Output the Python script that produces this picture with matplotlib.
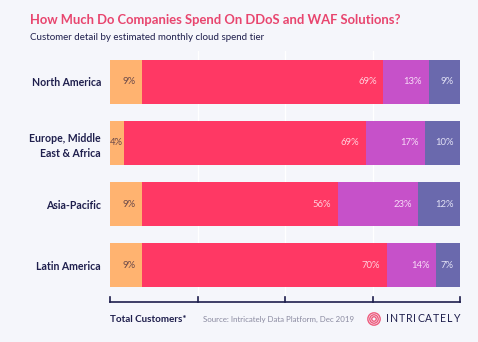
import matplotlib
matplotlib.use('Agg')
import matplotlib.pyplot as plt
from matplotlib.patches import Circle

# Spend tier share per region (percent of customers)
regions = ['North America', 'Europe, Middle\nEast & Africa', 'Asia-Pacific', 'Latin America']
tier_1 = [9, 4, 9, 9]
tier_2 = [69, 69, 56, 70]
tier_3 = [13, 17, 23, 14]
tier_4 = [9, 10, 12, 7]

tiers = [tier_1, tier_2, tier_3, tier_4]
colors = ['#ffb370', '#ff3864', '#c651c9', '#6a69ad']
text_colors = ['#6b4a4a', '#ffd0dc', '#f7dcf7', '#e2e2f5']

BG = '#f5f6fb'
NAVY = '#1f1f4d'

fig = plt.figure(figsize=(4.78, 3.42), dpi=100, facecolor=BG)
W, H = 478, 342

# axes spans the bar area in pixel coordinates
ax = fig.add_axes([110 / W, 1 - 296 / H, 350 / W, (296 - 51) / H])
ax.set_facecolor(BG)

y = list(range(len(regions)))
left = [0] * len(regions)
for vals, col, tcol in zip(tiers, colors, text_colors):
    bars = ax.barh(y, vals, left=left, height=0.72, color=col, edgecolor='none', zorder=2)
    for b, v in zip(bars, vals):
        x_end = b.get_x() + b.get_width()
        pad = -1.0 if v < 6 else -4.5
        ax.annotate(f'{v}%', xy=(x_end, b.get_y() + b.get_height() / 2),
                    xytext=(pad, 0), textcoords='offset points',
                    ha='right', va='center', fontsize=6.8, color=tcol,
                    family='Lato', zorder=3)
    left = [l + v for l, v in zip(left, vals)]

ax.set_xlim(0, 100)
ax.set_ylim(len(regions) - 0.5, -0.5)
for gx in [25, 50, 75]:
    ax.axvline(gx, color='white', lw=1.0, zorder=1)

ax.set_yticks(y)
ax.set_yticklabels(regions, fontsize=7.6, fontweight='bold', color=NAVY, family='Lato',
                   linespacing=1.45)
ax.tick_params(axis='y', length=0, pad=6.5)
ax.set_xticks([])
for s in ax.spines.values():
    s.set_visible(False)

# bottom scale line with upward ticks
line_y = 1 - 302 / H
fig.add_artist(plt.Line2D([110 / W, 460 / W], [line_y, line_y], color=NAVY, lw=1.2))
for tx in [110, 197.5, 285, 372.5, 460]:
    fig.add_artist(plt.Line2D([tx / W, tx / W], [line_y, line_y + 5 / H], color=NAVY, lw=1.2))

# titles
fig.text(30 / W, 1 - 20 / H, 'How Much Do Companies Spend On DDoS and WAF Solutions?',
         fontsize=9.4, fontweight='bold', color='#e8456e', family='Lato', va='center')
fig.text(30 / W, 1 - 38 / H, 'Customer detail by estimated monthly cloud spend tier',
         fontsize=7.0, color=NAVY, family='Lato', va='center')

# footer
fig.text(110 / W, 1 - 319 / H, 'Total Customers*', fontsize=7.1, fontweight='bold',
         color=NAVY, family='Lato', va='center')
fig.text(203 / W, 1 - 319 / H, 'Source: Intricately Data Platform, Dec 2019', fontsize=5.7,
         color='#8a8aa0', family='Lato', va='center')

# brand name with wide letter spacing: measure each glyph, spread to fill 386..460 px
brand = 'INTRICATELY'
renderer = fig.canvas.get_renderer()
glyphs = []
for ch in brand:
    t = fig.text(0, 1 - 319 / H, ch, fontsize=7.6, color=NAVY, family='Lato',
                 ha='left', va='center')
    glyphs.append((t, t.get_window_extent(renderer).width))
bx0, bx1 = 386, 460
gap = (bx1 - bx0 - sum(w for _, w in glyphs)) / (len(brand) - 1)
bx = bx0
for t, w in glyphs:
    t.set_x(bx / W)
    bx += w + gap

# logo mark: concentric rings
logo = fig.add_axes([(374 - 7) / W, 1 - (319 + 7) / H, 14 / W, 14 / H])
logo.set_xlim(-1, 1)
logo.set_ylim(-1, 1)
logo.set_aspect('equal')
logo.axis('off')
for r in [0.88, 0.6, 0.32]:
    logo.add_patch(Circle((0, 0), r, fill=False, ec='#ee5a7c', lw=1.0))

fig.savefig('out.png', dpi=100, facecolor=BG)
